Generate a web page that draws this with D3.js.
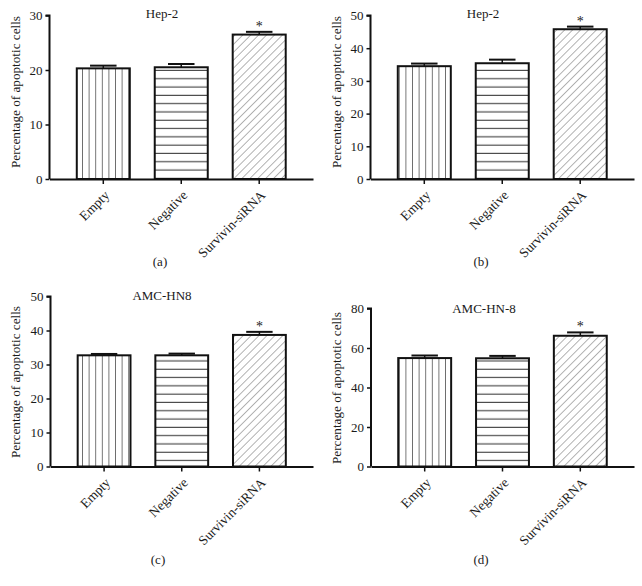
<!DOCTYPE html>
<html><head><meta charset="utf-8">
<script src="https://cdn.jsdelivr.net/npm/d3@7"></script>
<style>body{margin:0;background:#fff}svg{display:block}text{font-family:"Liberation Serif","Times New Roman",serif;fill:#1a1a1a}</style>
</head><body><svg id="c" width="642" height="586"></svg>
<script>
const categories = ["Empty", "Negative", "Survivin-siRNA"];
const titles = ["Hep-2", "Hep-2", "AMC-HN8", "AMC-HN-8"];
const panelLabels = ["(a)", "(b)", "(c)", "(d)"];
const yLabel = "Percentage of apoptotic cells";
const valuesA = [20.3, 20.5, 26.5];
const errorsA = [0.5, 0.6, 0.5];
const valuesB = [34.5, 35.4, 45.8];
const errorsB = [0.8, 1.1, 0.8];
const valuesC = [32.7, 32.7, 38.7];
const errorsC = [0.4, 0.5, 0.9];
const valuesD = [54.9, 54.8, 66.2];
const errorsD = [1.3, 1.2, 1.7];
const yMaxes = [30, 50, 50, 80];
const yTicksA = [0, 10, 20, 30];
const yTicksB = [0, 10, 20, 30, 40, 50];
const yTicksC = [0, 10, 20, 30, 40, 50];
const yTicksD = [0, 20, 40, 60, 80];
const significance = ["", "", "*"];

const panels = [
  {values: valuesA, errors: errorsA, ymax: yMaxes[0], ticks: yTicksA, title: titles[0], label: panelLabels[0],
   x0: 49.5, x1: 313, top: 15.5, bot: 179, titleX: 162, titleY: 17.5, ylx: 15, yly: 92, plx: 160, ply: 266},
  {values: valuesB, errors: errorsB, ymax: yMaxes[1], ticks: yTicksB, title: titles[1], label: panelLabels[1],
   x0: 370.5, x1: 634, top: 15.5, bot: 179, titleX: 483, titleY: 17.5, ylx: 336, yly: 92, plx: 481, ply: 266},
  {values: valuesC, errors: errorsC, ymax: yMaxes[2], ticks: yTicksC, title: titles[2], label: panelLabels[2],
   x0: 50.5, x1: 313, top: 296.5, bot: 466.5, titleX: 162, titleY: 299.5, ylx: 15, yly: 382, plx: 158, ply: 564},
  {values: valuesD, errors: errorsD, ymax: yMaxes[3], ticks: yTicksD, title: titles[3], label: panelLabels[3],
   x0: 371, x1: 634, top: 308.5, bot: 466.5, titleX: 484, titleY: 312.5, ylx: 336, yly: 388, plx: 481, ply: 564}
];

const svg = d3.select("#c");
const defs = svg.append("defs");
// patterns
const pv = defs.append("pattern").attr("id", "pv").attr("patternUnits", "userSpaceOnUse").attr("width", 6.6).attr("height", 10);
pv.append("line").attr("x1", 3.3).attr("x2", 3.3).attr("y1", 0).attr("y2", 10).attr("stroke", "#6e6e6e").attr("stroke-width", 1);
const ph = defs.append("pattern").attr("id", "ph").attr("patternUnits", "userSpaceOnUse").attr("width", 10).attr("height", 8.3);
ph.append("line").attr("x1", 0).attr("x2", 10).attr("y1", 4).attr("y2", 4).attr("stroke", "#2a2a2a").attr("stroke-width", 1);
const pd = defs.append("pattern").attr("id", "pd").attr("patternUnits", "userSpaceOnUse").attr("width", 5.6).attr("height", 6)
  .attr("patternTransform", "rotate(45)");
pd.append("line").attr("x1", 0).attr("x2", 0).attr("y1", 0).attr("y2", 6).attr("stroke", "#666").attr("stroke-width", 1);
const fills = ["url(#pv)", "url(#ph)", "url(#pd)"];

panels.forEach(p => {
  const g = svg.append("g");
  const x = d3.scaleBand().domain(categories).range([p.x0, p.x1]).paddingInner(0.32).paddingOuter(0.35);
  const y = d3.scaleLinear().domain([0, p.ymax]).range([p.bot, p.top]);

  // bars
  g.selectAll("rect.bar").data(categories).join("rect").attr("class", "bar")
    .attr("x", d => x(d)).attr("width", x.bandwidth())
    .attr("y", (d, i) => y(p.values[i])).attr("height", (d, i) => y(0) - y(p.values[i]))
    .attr("fill", (d, i) => fills[i]).attr("stroke", "#111").attr("stroke-width", 2);

  // error bars
  categories.forEach((c, i) => {
    const cx = x(c) + x.bandwidth() / 2;
    const yt = y(p.values[i] + p.errors[i]);
    g.append("line").attr("x1", cx).attr("x2", cx).attr("y1", y(p.values[i])).attr("y2", yt).attr("stroke", "#111").attr("stroke-width", 1.5);
    g.append("line").attr("x1", cx - x.bandwidth() / 4).attr("x2", cx + x.bandwidth() / 4).attr("y1", yt).attr("y2", yt).attr("stroke", "#111").attr("stroke-width", 2);
    if (significance[i]) {
      g.append("text").attr("x", cx).attr("y", yt - 1).attr("text-anchor", "middle").attr("font-size", 14).text(significance[i]);
    }
  });

  // y axis
  const ya = g.append("g").attr("transform", `translate(${p.x0},0)`)
    .call(d3.axisLeft(y).tickValues(p.ticks).tickSize(4).tickPadding(3));
  ya.select(".domain").attr("stroke", "#111").attr("stroke-width", 2).attr("d", `M-4,${p.top}H0V${p.bot}`);
  ya.selectAll(".tick line").attr("stroke", "#111").attr("stroke-width", 1.5);
  ya.selectAll(".tick text").attr("font-size", 13).attr("font-family", "Liberation Serif").attr("fill", "#1a1a1a");

  // x axis
  const xa = g.append("g").attr("transform", `translate(0,${p.bot})`)
    .call(d3.axisBottom(x).tickSize(5).tickSizeOuter(0));
  xa.select(".domain").attr("stroke", "#111").attr("stroke-width", 2);
  xa.selectAll(".tick line").attr("stroke", "#111").attr("stroke-width", 1.5);
  xa.selectAll(".tick text").attr("font-size", 13.5).attr("font-family", "Liberation Serif").attr("fill", "#1a1a1a")
    .attr("text-anchor", "end").attr("y", 0).attr("dy", 0)
    .attr("transform", "translate(7,17) rotate(-45)");

  // title
  g.append("text").attr("x", p.titleX).attr("y", p.titleY).attr("text-anchor", "middle").attr("font-size", 13).text(p.title);
  // y label
  g.append("text").attr("transform", `translate(${p.ylx + 4.5},${p.yly}) rotate(-90)`).attr("text-anchor", "middle").attr("font-size", 13.2).text(yLabel);
  // panel label
  g.append("text").attr("x", p.plx).attr("y", p.ply).attr("text-anchor", "middle").attr("font-size", 13).text(p.label);
});
</script></body></html>
